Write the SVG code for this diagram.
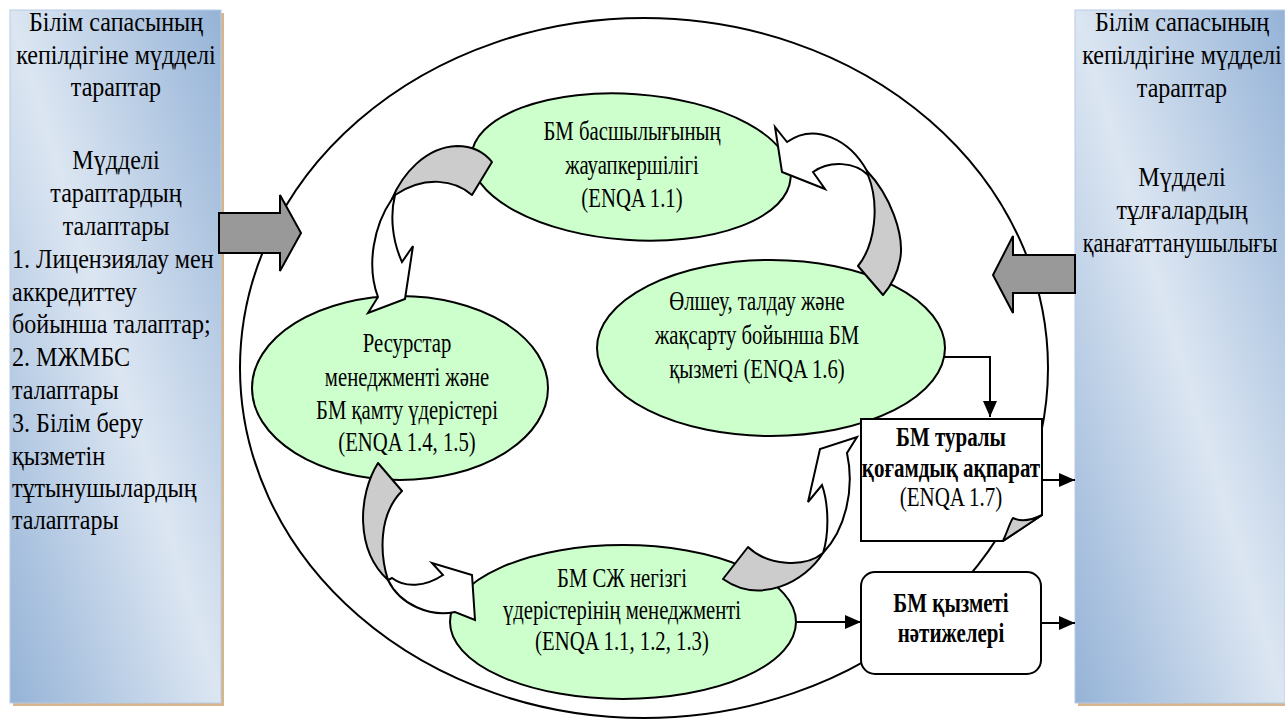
<svg xmlns="http://www.w3.org/2000/svg" width="1285" height="719" viewBox="0 0 1285 719">
<defs>
<linearGradient id="side" x1="1" y1="0" x2="0" y2="1">
<stop offset="0" stop-color="#95b3d7"/>
<stop offset="0.5" stop-color="#dce6f2"/>
<stop offset="1" stop-color="#95b3d7"/>
</linearGradient>
<marker id="ah" markerUnits="userSpaceOnUse" markerWidth="17" markerHeight="15" refX="16" refY="7" orient="auto">
<path d="M0,0 L16,7 L0,14 Z" fill="#000"/>
</marker>
<style>
.t{font-size:28px;fill:#000}
.c{text-anchor:middle}
.b{font-weight:bold}
.ell{fill:#ccffcc;stroke:#000;stroke-width:2}
.gband{fill:#cccccc;stroke:#000;stroke-width:2;stroke-linejoin:round}
.warr{fill:#fff;stroke:#000;stroke-width:2;stroke-linejoin:miter}
.blk{fill:#999999;stroke:#000;stroke-width:2}
.box{fill:#fff;stroke:#000;stroke-width:2}
.con{fill:none;stroke:#000;stroke-width:2}
.shadow{fill:#d6b48c}
.side{fill:url(#side);stroke:#b8cce4;stroke-width:1}
</style>
</defs>
<rect width="1285" height="719" fill="#fff"/>

<g id="cycle">
<ellipse cx="644" cy="368" rx="404" ry="350" fill="none" stroke="#000" stroke-width="2"/>
</g>

<g font-family="Liberation Serif, Tinos, Times New Roman, DejaVu Serif, serif">
<g id="stakeholders-left">
<rect class="shadow" x="13" y="13" width="211" height="693"/>
<rect class="side" x="10" y="10" width="211" height="693"/>
<g transform="translate(116 0) scale(0.86 1)">
<text class="t c" x="0" y="31">Білім сапасының</text>
<text class="t c" x="0" y="64">кепілдігіне мүдделі</text>
<text class="t c" x="0" y="96">тараптар</text>
<text class="t c" x="0" y="169">Мүдделі</text>
<text class="t c" x="0" y="202">тараптардың</text>
<text class="t c" x="0" y="235">талаптары</text>
</g>
<g transform="translate(12 0) scale(0.86 1)">
<text class="t" x="0" y="268">1. Лицензиялау мен</text>
<text class="t" x="0" y="301">аккредиттеу</text>
<text class="t" x="0" y="333">бойынша талаптар;</text>
<text class="t" x="0" y="366">2. МЖМБС</text>
<text class="t" x="0" y="399">талаптары</text>
<text class="t" x="0" y="432">3. Білім беру</text>
<text class="t" x="0" y="465">қызметін</text>
<text class="t" x="0" y="497">тұтынушылардың</text>
<text class="t" x="0" y="529">талаптары</text>
</g>
</g>

<g id="stakeholders-right">
<rect class="shadow" x="1078" y="13" width="207" height="693"/>
<rect class="side" x="1075" y="10" width="210" height="693"/>
<g transform="translate(1182 0) scale(0.86 1)">
<text class="t c" x="0" y="31">Білім сапасының</text>
<text class="t c" x="0" y="64">кепілдігіне мүдделі</text>
<text class="t c" x="0" y="97">тараптар</text>
<text class="t c" x="0" y="186">Мүдделі</text>
<text class="t c" x="0" y="219">тұлғалардың</text>
</g>
<g transform="translate(1180 0) scale(0.79 1)">
<text class="t c" x="0" y="252">қанағаттанушылығы</text>
</g>
</g>

<g id="input-arrow">
<path class="blk" d="M219,213 H280 V195 L301,233 L280,271 V253 H219 Z"/>
</g>
<g id="feedback-arrow">
<path class="blk" d="M1075,255 H1013 V236 L993,275 L1013,313 V293 H1075 Z"/>
</g>

<g id="leadership">
<ellipse class="ell" cx="631" cy="167" rx="160" ry="73" transform="rotate(4 631 167)"/>
<g transform="translate(632 0) scale(0.74 1)">
<text class="t c" x="0" y="140">БМ басшылығының</text>
<text class="t c" x="0" y="174">жауапкершілігі</text>
<text class="t c" x="0" y="207">(ENQA 1.1)</text>
</g>
</g>

<g id="resources">
<ellipse class="ell" cx="400" cy="388" rx="148" ry="92"/>
<g transform="translate(407 0) scale(0.74 1)">
<text class="t c" x="0" y="352">Ресурстар</text>
<text class="t c" x="0" y="386">менеджменті және</text>
<text class="t c" x="0" y="419">БМ қамту үдерістері</text>
<text class="t c" x="0" y="451">(ENQA 1.4, 1.5)</text>
</g>
</g>

<g id="measurement">
<ellipse class="ell" cx="771" cy="348" rx="174" ry="88"/>
<g transform="translate(757 0) scale(0.74 1)">
<text class="t c" x="0" y="310">Өлшеу, талдау және</text>
<text class="t c" x="0" y="344">жақсарту бойынша БМ</text>
<text class="t c" x="0" y="378">қызметі (ENQA 1.6)</text>
</g>
</g>

<g id="core-processes">
<ellipse class="ell" cx="623" cy="622" rx="173" ry="77"/>
<g transform="translate(622 0) scale(0.74 1)">
<text class="t c" x="0" y="587">БМ СЖ негізгі</text>
<text class="t c" x="0" y="619">үдерістерінің менеджменті</text>
<text class="t c" x="0" y="650">(ENQA 1.1, 1.2, 1.3)</text>
</g>
</g>

<g id="public-info">
<path class="box" d="M861,419 H1042 V515 L1003,541 H861 Z"/>
<path class="gband" d="M1003,541 C1008,530 1010,522 1013,518 C1021,522 1032,520 1042,515 Z"/>
<g transform="translate(951 0) scale(0.75 1)">
<text class="t c b" x="0" y="446">БМ туралы</text>
<text class="t c b" x="0" y="477">қоғамдық ақпарат</text>
<text class="t c" x="0" y="506">(ENQA 1.7)</text>
</g>
</g>

<g id="results">
<rect class="box" x="861" y="572" width="180" height="102" rx="14"/>
<g transform="translate(951 0) scale(0.75 1)">
<text class="t c b" x="0" y="612">БМ қызметі</text>
<text class="t c b" x="0" y="642">нәтижелері</text>
</g>
</g>
</g>

<g id="connectors">
<path class="warr" d="M392,199 C374,225 366,265 378,297 L368,313 L405,299 L413,246 L402,262 C392,240 390,215 395,195 Z"/>
<path class="gband" d="M392,199 C402,175 425,147 457,146 C472,146 484,152 492,162 L472,195 C455,180 425,175 395,195 Z"/>
<path class="warr" d="M867,171 C850,140 815,122 787,142 L775,127 L782,172 L825,189 L813,172 C830,160 855,162 868,175 Z"/>
<path class="gband" d="M867,171 C890,195 905,235 900,260 C897,275 890,287 883,295 L858,266 C875,245 880,205 868,175 Z"/>
<path class="warr" d="M388,580 C400,605 430,617 455,612 L475,620 L472,575 L432,563 L443,575 C425,587 405,588 392,578 Z"/>
<path class="gband" d="M378,463 C358,495 355,550 388,580 C380,555 378,515 402,491 Z"/>
<path class="warr" d="M823,553 C845,530 855,490 847,453 L857,437 L820,449 L808,502 L822,485 C829,505 829,535 823,553 Z"/>
<path class="gband" d="M748,547 C768,566 805,568 823,553 C805,582 760,605 723,579 Z"/>
<path class="con" d="M943,357 H990 V417" marker-end="url(#ah)"/>
<path class="con" d="M1042,480 H1075" marker-end="url(#ah)"/>
<path class="con" d="M797,622 H861" marker-end="url(#ah)"/>
<path class="con" d="M1041,623 H1075" marker-end="url(#ah)"/>
</g>
</svg>
